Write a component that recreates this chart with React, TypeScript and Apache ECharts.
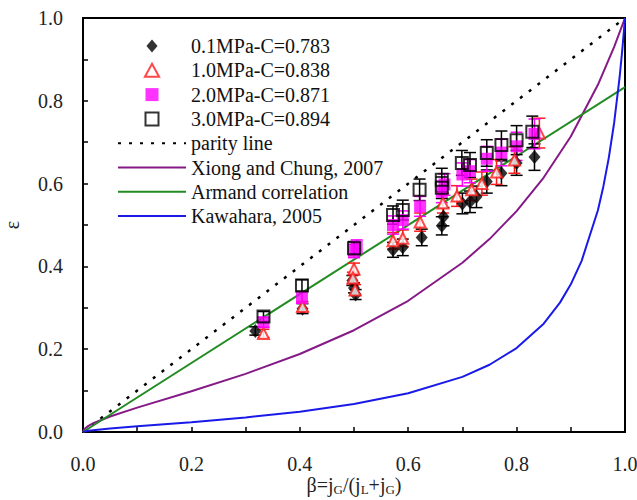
import React, { useEffect, useRef } from "react";
import * as echarts from "echarts";

// [beta, epsilon, error]
const p01: number[][] = [
  [0.318, 0.244, 0.010], [0.405, 0.298, 0.012], [0.497, 0.366, 0.012], [0.500, 0.348, 0.012],
  [0.503, 0.332, 0.012], [0.572, 0.440, 0.018], [0.590, 0.446, 0.020], [0.625, 0.470, 0.020],
  [0.662, 0.498, 0.022], [0.665, 0.520, 0.022], [0.700, 0.552, 0.025], [0.714, 0.556, 0.026],
  [0.726, 0.568, 0.026], [0.745, 0.605, 0.028], [0.772, 0.625, 0.030], [0.800, 0.650, 0.030],
  [0.833, 0.664, 0.032],
];
const p10: number[][] = [
  [0.333, 0.238, 0.010], [0.405, 0.303, 0.012], [0.500, 0.394, 0.014], [0.498, 0.372, 0.014],
  [0.502, 0.343, 0.013], [0.572, 0.462, 0.020], [0.590, 0.468, 0.020], [0.622, 0.507, 0.022],
  [0.664, 0.553, 0.024], [0.690, 0.570, 0.025], [0.717, 0.585, 0.026], [0.736, 0.600, 0.028],
  [0.763, 0.628, 0.030], [0.796, 0.657, 0.032], [0.842, 0.722, 0.036],
];
const p20: number[][] = [
  [0.333, 0.265, 0.012], [0.404, 0.325, 0.014], [0.500, 0.437, 0.016], [0.505, 0.448, 0.016],
  [0.572, 0.500, 0.022], [0.590, 0.512, 0.022], [0.622, 0.545, 0.024], [0.662, 0.580, 0.026],
  [0.667, 0.598, 0.026], [0.700, 0.622, 0.028], [0.714, 0.630, 0.028], [0.745, 0.660, 0.030],
  [0.772, 0.675, 0.032], [0.800, 0.690, 0.034], [0.833, 0.720, 0.036],
];
const p30: number[][] = [
  [0.333, 0.279, 0.012], [0.404, 0.354, 0.014], [0.500, 0.444, 0.016], [0.572, 0.524, 0.022],
  [0.590, 0.536, 0.024], [0.621, 0.585, 0.026], [0.662, 0.590, 0.026], [0.662, 0.609, 0.028],
  [0.699, 0.650, 0.030], [0.714, 0.645, 0.030], [0.745, 0.674, 0.032], [0.772, 0.693, 0.034],
  [0.800, 0.705, 0.035], [0.829, 0.725, 0.038],
];

const parityLine: number[][] = [[0, 0], [1, 1]];
const armandLine: number[][] = [[0, 0], [1, 0.833]];
const xiongLine: number[][] = [
  [0, 0], [0.002, 0.0066], [0.01, 0.0148], [0.02, 0.0218], [0.05, 0.0374], [0.1, 0.0588],
  [0.2, 0.0985], [0.3, 0.1405], [0.4, 0.1885], [0.5, 0.2458], [0.6, 0.3169], [0.7, 0.4088],
  [0.75, 0.466], [0.8, 0.5335], [0.85, 0.6146], [0.9, 0.7139], [0.95, 0.8386], [0.98, 0.9301],
  [1, 1],
];
const kawaharaLine: number[][] = [
  [0, 0], [0.01, 0.0033], [0.05, 0.0086], [0.1, 0.0137], [0.2, 0.0237], [0.3, 0.0351],
  [0.4, 0.0491], [0.5, 0.0675], [0.6, 0.0935], [0.7, 0.1332], [0.75, 0.1624], [0.8, 0.2027],
  [0.85, 0.2616], [0.88, 0.3125], [0.9, 0.3567], [0.92, 0.4134], [0.95, 0.5355], [0.96, 0.5926],
  [0.97, 0.6616], [0.98, 0.747], [0.99, 0.8563], [0.995, 0.9228], [1, 1],
];

const names = [
  "0.1MPa-C=0.783",
  "1.0MPa-C=0.838",
  "2.0MPa-C=0.871",
  "3.0MPa-C=0.894",
  "parity line",
  "Xiong and Chung, 2007",
  "Armand correlation",
  "Kawahara, 2005",
];

const FONT = "Liberation Serif";
const DIAMOND = "path://M0,-7L6,0L0,7L-6,0Z";
const TRIANGLE = "path://M0,-6L6,5L-6,5Z";
const SQUARE = "path://M-6,-6L6,-6L6,6L-6,6Z";

function errSeries(id: string, data: number[][], color: string) {
  return {
    type: "custom",
    name: id,
    z: 3,
    silent: true,
    data,
    encode: { x: 0, y: 1 },
    renderItem: (params: any, api: any) => {
      const x = api.value(0);
      const y = api.value(1);
      const e = api.value(2);
      const t = api.coord([x, y + e]);
      const b = api.coord([x, y - e]);
      const w = 6;
      const style = { stroke: color, lineWidth: 1.5 };
      return {
        type: "group",
        children: [
          { type: "line", shape: { x1: t[0], y1: t[1], x2: b[0], y2: b[1] }, style },
          { type: "line", shape: { x1: t[0] - w, y1: t[1], x2: t[0] + w, y2: t[1] }, style },
          { type: "line", shape: { x1: b[0] - w, y1: b[1], x2: b[0] + w, y2: b[1] }, style },
        ],
      };
    },
  };
}

const pick = (d: number[][]) => d.map((r) => [r[0], r[1]]);

function curve(name: string, data: number[][], color: string, width: number, type: any) {
  return {
    type: "line",
    name,
    data,
    symbol: "none",
    z: 2,
    itemStyle: { color, opacity: 0 },
    lineStyle: { color, width, type },
  };
}

export default function App() {
  const ref = useRef<HTMLDivElement>(null);
  useEffect(() => {
    if (!ref.current) return;
    const chart = echarts.init(ref.current, null, { renderer: "svg" });
    const labelFmt = (v: number) => (Math.round(v * 10) % 2 === 0 ? v.toFixed(1) : "");
    const axisCommon = {
      type: "value",
      min: 0,
      max: 1,
      interval: 0.1,
      axisLine: { show: true, lineStyle: { color: "#000", width: 2 } },
      axisTick: { show: true, inside: true, length: 5, lineStyle: { color: "#000", width: 1.5 } },
      splitLine: { show: false },
      axisLabel: { formatter: labelFmt, fontFamily: FONT, fontSize: 20, color: "#222", margin: 22 },
    };
    chart.setOption({
      animation: false,
      backgroundColor: "#fff",
      grid: {
        left: 83, right: 12, top: 18, bottom: 68,
        show: true, borderColor: "#000", borderWidth: 2,
        outerBoundsMode: "none", containLabel: false,
      },
      xAxis: {
        ...axisCommon,
        name: "β=j{s|G}/(j{s|L}+j{s|G})",
        nameLocation: "middle",
        nameGap: 41,
        nameMoveOverlap: false,
        nameTextStyle: {
          fontFamily: FONT,
          fontSize: 20,
          color: "#222",
          lineHeight: 23,
          rich: { s: { fontFamily: FONT, fontSize: 13, lineHeight: 13, verticalAlign: "bottom", color: "#222" } },
        },
      },
      yAxis: {
        ...axisCommon,
        axisLabel: { ...axisCommon.axisLabel, margin: 20 },
        name: "ε",
        nameLocation: "middle",
        nameGap: 61,
        nameMoveOverlap: false,
        nameTextStyle: { fontFamily: FONT, fontSize: 20, color: "#222" },
      },
      legend: {
        data: names,
        orient: "vertical",
        left: 117,
        top: 36,
        padding: 0,
        itemWidth: 68,
        itemHeight: 13,
        itemGap: 4.3,
        symbolKeepAspect: true,
        selectedMode: false,
        textStyle: { fontFamily: FONT, fontSize: 20, lineHeight: 20, color: "#111" },
      },
      series: [
        curve(names[4], parityLine, "#000", 2.5, [3, 8]),
        curve(names[5], xiongLine, "#851a87", 2, "solid"),
        curve(names[6], armandLine, "#228b22", 2, "solid"),
        curve(names[7], kawaharaLine, "#1a1ae8", 2, "solid"),
        errSeries("e01", p01, "#000"),
        errSeries("e10", p10, "#ff1a1a"),
        errSeries("e20", p20, "#ff00ff"),
        errSeries("e30", p30, "#000"),
        { type: "scatter", name: names[0], data: pick(p01), symbol: DIAMOND, symbolSize: [12, 14], z: 4, itemStyle: { color: "#000" } },
        { type: "scatter", name: names[1], data: pick(p10), symbol: TRIANGLE, symbolSize: 11, z: 4, itemStyle: { color: "#fff", borderColor: "#ff1a1a", borderWidth: 2 } },
        { type: "scatter", name: names[2], data: pick(p20), symbol: SQUARE, symbolSize: 12, z: 4, itemStyle: { color: "#ff00ff" } },
        { type: "scatter", name: names[3], data: pick(p30), symbol: SQUARE, symbolSize: 12, z: 4, itemStyle: { color: "rgba(255,255,255,0)", borderColor: "#000", borderWidth: 2 } },
      ],
    });
    return () => chart.dispose();
  }, []);
  return <div ref={ref} style={{ position: "fixed", left: 0, top: 0, width: 637, height: 500 }} />;
}
